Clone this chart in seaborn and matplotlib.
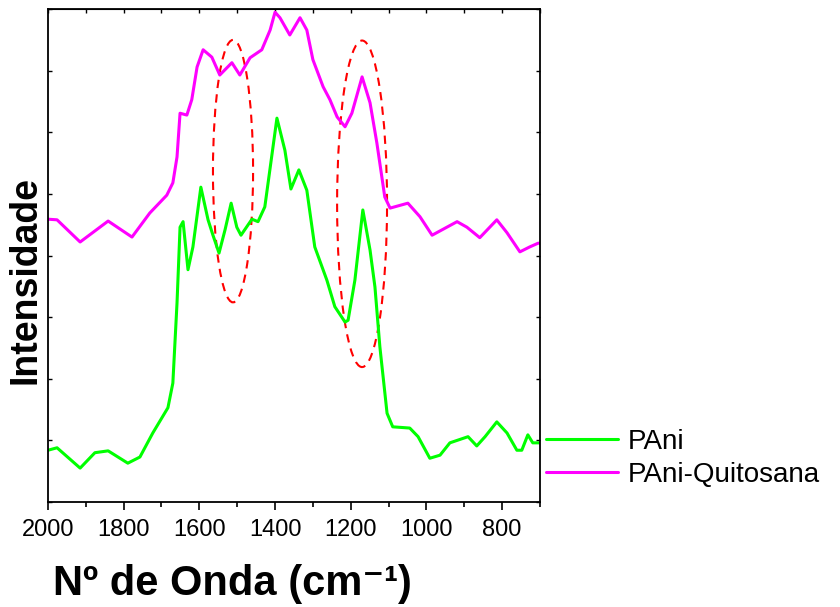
import numpy as np
import pandas as pd
import matplotlib
matplotlib.use("Agg")
import matplotlib.pyplot as plt
from matplotlib.patches import Ellipse
import seaborn as sns

# Espectro PAni (verde)
onda_pani = [2000, 1976, 1915, 1876, 1841, 1789, 1757, 1723, 1683, 1670, 1659, 1651,
             1643, 1630, 1617, 1596, 1577, 1564, 1548, 1532, 1516, 1501, 1490, 1461,
             1445, 1427, 1395, 1374, 1358, 1337, 1316, 1295, 1263, 1242, 1215, 1207,
             1189, 1168, 1149, 1136, 1123, 1104, 1089, 1044, 1022, 991, 964, 938,
             890, 867, 845, 814, 787, 761, 748, 732, 719, 700]
int_pani = [0.84, 0.88, 0.55, 0.80, 0.83, 0.63, 0.73, 1.12, 1.53, 1.93, 3.23, 4.46,
            4.55, 3.77, 4.14, 5.11, 4.58, 4.33, 4.04, 4.42, 4.85, 4.46, 4.33, 4.59,
            4.55, 4.79, 6.23, 5.71, 5.08, 5.39, 5.06, 4.14, 3.60, 3.17, 2.92, 2.95,
            3.60, 4.74, 4.09, 3.49, 2.52, 1.44, 1.22, 1.20, 1.06, 0.71, 0.76, 0.96,
            1.06, 0.91, 1.06, 1.30, 1.12, 0.84, 0.84, 1.09, 0.96, 0.96]

# Espectro PAni-Quitosana (magenta)
onda_pq = [2000, 1976, 1915, 1841, 1778, 1731, 1686, 1670, 1659, 1651, 1633, 1620,
           1606, 1590, 1567, 1546, 1514, 1493, 1466, 1435, 1413, 1400, 1387, 1361,
           1334, 1316, 1300, 1273, 1255, 1236, 1215, 1197, 1170, 1149, 1131, 1110,
           1096, 1049, 1017, 985, 919, 893, 859, 814, 787, 753, 727, 705, 700]
int_pq = [4.59, 4.58, 4.22, 4.56, 4.30, 4.69, 4.98, 5.18, 5.60, 6.31, 6.28, 6.53,
          7.06, 7.34, 7.22, 6.93, 7.13, 6.93, 7.21, 7.34, 7.66, 7.95, 7.86, 7.58,
          7.86, 7.66, 7.18, 6.74, 6.53, 6.25, 6.09, 6.31, 6.90, 6.48, 5.83, 4.95,
          4.77, 4.85, 4.63, 4.33, 4.55, 4.46, 4.29, 4.58, 4.37, 4.06, 4.14, 4.20, 4.20]

# Elipses de destaque: centro (onda, intensidade), largura, altura
elipse_centros = [(1511, 5.37), (1170, 4.84)]
elipse_larguras = [106, 132]
elipse_alturas = [4.26, 5.30]

df = pd.concat([
    pd.DataFrame({"onda": onda_pani, "int": int_pani, "amostra": "PAni"}),
    pd.DataFrame({"onda": onda_pq, "int": int_pq, "amostra": "PAni-Quitosana"}),
])

sns.set_style("ticks")
plt.rcParams['font.family'] = ['Liberation Sans', 'DejaVu Sans']
plt.rcParams.update({"text.color": "black", "axes.labelcolor": "black",
                     "xtick.color": "black", "ytick.color": "black",
                     "axes.edgecolor": "black"})

fig = plt.figure(figsize=(8.4, 6.07), dpi=100)
ax = fig.add_axes([0.0571, 0.173, 0.5857, 0.812])

sns.lineplot(data=df, x="onda", y="int", hue="amostra", sort=False,
             palette={"PAni": "#00ff00", "PAni-Quitosana": "#ff00ff"},
             linewidth=2.2, ax=ax, estimator=None)

for c, w, h in zip(elipse_centros, elipse_larguras, elipse_alturas):
    ax.add_patch(Ellipse(c, w, h, fill=False, edgecolor="red", lw=1.5,
                         linestyle=(0, (4, 3))))

ax.set_xlim(2000, 700)
ax.set_ylim(0, 8)
ax.set_xticks(np.arange(2000, 699, -200))
ax.set_xticks(np.arange(2000, 699, -100), minor=True)
ax.set_yticks(np.arange(0, 9, 1))
ax.tick_params(axis="x", which="major", direction="out", length=6, width=1.2,
               labelsize=17, pad=6)
ax.tick_params(axis="x", which="minor", direction="out", length=3.5, width=1.2)
ax.tick_params(axis="y", direction="in", left=True, right=True, labelleft=False,
               length=3, width=1.0)
for s in ax.spines.values():
    s.set_linewidth(1.3)
    s.set_visible(True)

top = ax.secondary_xaxis("top")
top.set_xticks(np.arange(2000, 699, -100))
top.tick_params(direction="in", length=3, width=1.0, labeltop=False)

ax.set_xlabel("Nº de Onda (cm\u207b\u00b9)", fontsize=30, fontweight="bold")
ax.xaxis.set_label_coords(0.374, -0.125)
ax.set_ylabel("Intensidade", fontsize=27, fontweight="bold")
ax.yaxis.set_label_coords(-0.01, 0.45)

ax.legend(loc="center left", bbox_to_anchor=(0.633, 0.245), bbox_transform=fig.transFigure,
          frameon=False, fontsize=20, handlelength=2.6, handletextpad=0.35,
          labelspacing=0.27, borderpad=0)

fig.savefig("out.png", dpi=100)
